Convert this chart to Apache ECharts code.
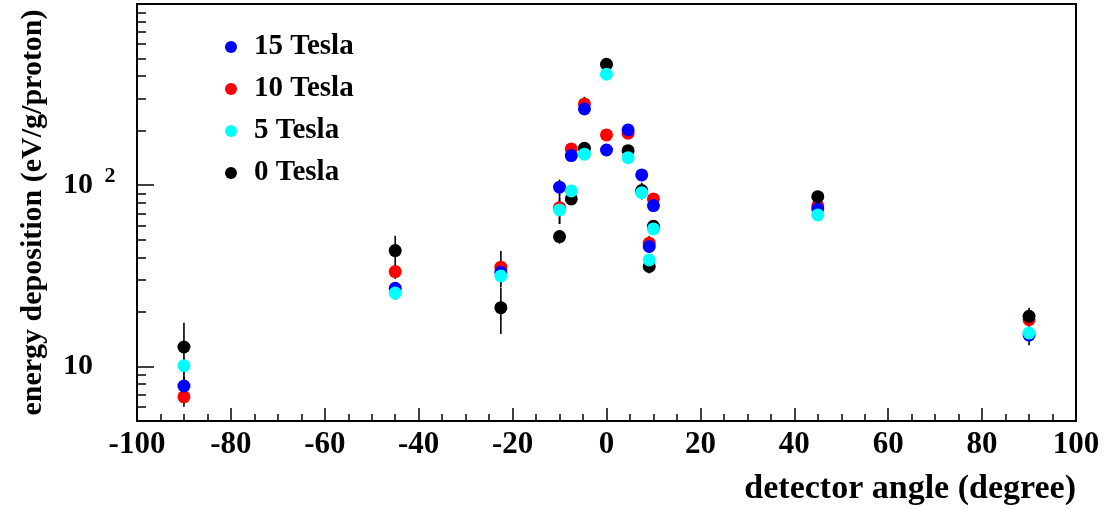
<!DOCTYPE html>
<html><head><meta charset="utf-8">
<script src="https://cdn.jsdelivr.net/npm/echarts@6/dist/echarts.min.js"></script>
<style>html,body{margin:0;padding:0;background:#fff}#c{width:1115px;height:510px}</style>
</head><body><div id="c"></div>
<script>
// detector angles (degree)
const angles   = [-90, -45, -22.5, -10, -7.5, -4.7, 0, 4.6, 7.5, 9.1, 10, 45, 90];
// energy deposition (eV/g/proton)
const tesla15  = [7.8, 27.0, 33.1, 97.5, 145.7, 263.6, 156.5, 201.8, 114.0, 45.9, 77.2, 74.0, 14.9];
const err15    = [1.0, 2.0, 3.0, 10.0, 5.0, 12.0, 6.0, 10.0, 5.0, 3.0, 4.0, 3.0, 1.8];
const tesla10  = [6.8, 33.4, 35.3, 75.2, 158.6, 280.8, 189.4, 193.6, 92.0, 47.9, 84.0, 76.9, 18.1];
const err10    = [0.8, 3.0, 8.0, 14.0, 5.0, 27.0, 8.0, 8.0, 4.0, 4.5, 6.0, 3.0, 1.0];
const tesla5   = [10.1, 25.4, 31.6, 73.1, 93.0, 148.3, 409.6, 142.0, 91.0, 38.7, 57.4, 68.6, 15.3];
const err5     = [1.0, 2.0, 3.0, 12.0, 4.0, 6.0, 15.0, 6.0, 4.0, 2.0, 3.0, 3.0, 1.0];
const tesla0   = [12.8, 43.6, 21.1, 52.1, 84.0, 160.0, 465.0, 155.1, 93.4, 35.6, 59.3, 86.5, 18.9];
const err0     = [4.6, 9.0, 6.0, 4.5, 3.0, 7.0, 15.0, 5.0, 10.0, 3.0, 2.0, 3.0, 2.2];
const legendNames = ['15 Tesla', '10 Tesla', '5 Tesla', '0 Tesla'];
const xTicks = { min: -100, max: 100, interval: 20 };
const yMajor = [10, 100];
const yMinor = [6, 7, 8, 9, 20, 30, 40, 50, 60, 70, 80, 90, 200, 300, 400, 500, 600, 700, 800, 900];

const FONT = "'Liberation Serif', 'Times New Roman', serif";
const chart = echarts.init(document.getElementById('c'), null, { renderer: 'canvas' });

function pts(vals) { return angles.map((a, i) => [a, vals[i]]); }
function errSeries(vals, errs) {
  return {
    type: 'custom', silent: true, z: 1,
    data: angles.map((a, i) => [a, vals[i] - errs[i], vals[i] + errs[i]]),
    encode: { x: 0, y: [1, 2] },
    renderItem: function (params, api) {
      const lo = api.coord([api.value(0), api.value(1)]);
      const hi = api.coord([api.value(0), api.value(2)]);
      return { type: 'line', shape: { x1: lo[0], y1: lo[1], x2: hi[0], y2: hi[1] },
               style: { stroke: '#000', lineWidth: 1.6 } };
    }
  };
}
function scatter(name, vals, color) {
  return { name: name, type: 'scatter', data: pts(vals), symbol: 'circle', symbolSize: 13, z: 3,
           itemStyle: { color: color, opacity: 1 }, emphasis: { disabled: true } };
}

const option = {
  animation: false,
  backgroundColor: '#fff',
  grid: { left: 137, right: 39, top: 4, bottom: 89, show: true, borderColor: '#000', borderWidth: 2, backgroundColor: 'transparent' },
  title: { text: 'detector angle (degree)', right: 39, top: 472, padding: 0,
           textStyle: { fontFamily: FONT, fontWeight: 'bold', fontSize: 34, color: '#000' } },
  legend: {
    data: legendNames, orient: 'vertical', left: 225, top: 32, itemWidth: 36, itemHeight: 12, itemGap: 12,
    icon: 'circle', selectedMode: false, padding: 0,
    textStyle: { fontFamily: FONT, fontWeight: 'bold', fontSize: 29, color: '#000', lineHeight: 30 }
  },
  xAxis: {
    type: 'value', min: xTicks.min, max: xTicks.max, interval: xTicks.interval,
    axisLine: { onZero: false, lineStyle: { color: '#000', width: 2 } },
    axisTick: { inside: true, length: 13, lineStyle: { color: '#000', width: 1.5 } },
    minorTick: { show: true, splitNumber: 4, length: 7, lineStyle: { color: '#000', width: 1.5 } },
    splitLine: { show: false },
    axisLabel: { margin: 8, fontFamily: FONT, fontWeight: 'bold', fontSize: 31, color: '#000', showMinLabel: true, showMaxLabel: true }
  },
  yAxis: [
    {
      type: 'log', logBase: 10, min: 5, max: 1000, position: 'left',
      axisLine: { show: true, onZero: false, lineStyle: { color: '#000', width: 2 } },
      axisTick: { show: true, inside: true, length: 17, customValues: yMajor, lineStyle: { color: '#000', width: 1.5 } },
      splitLine: { show: false },
      axisLabel: {
        customValues: yMajor, margin: 74, align: 'left', fontFamily: FONT, fontWeight: 'bold', fontSize: 30, color: '#000',
        formatter: function (v) {
          if (Math.abs(v - 100) < 1e-6) return '{m|10} {s|2}';
          if (Math.abs(v - 10) < 1e-6) return '{m|10}';
          return '';
        },
        rich: {
          m: { fontFamily: FONT, fontWeight: 'bold', fontSize: 30, lineHeight: 40, color: '#000' },
          s: { fontFamily: FONT, fontWeight: 'bold', fontSize: 22, lineHeight: 21, verticalAlign: 'top', padding: [0, 0, 0, 4], color: '#000' }
        }
      },
      name: 'energy deposition (eV/g/proton)', nameLocation: 'middle', nameGap: 89, nameRotate: 90, nameMoveOverlap: false,
      nameTextStyle: { fontFamily: FONT, fontWeight: 'bold', fontSize: 30, color: '#000' }
    },
    {
      type: 'log', logBase: 10, min: 5, max: 1000, position: 'left',
      axisLine: { show: false, onZero: false },
      axisTick: { show: true, inside: true, length: 9, customValues: yMinor, lineStyle: { color: '#000', width: 1.5 } },
      axisLabel: { show: false },
      splitLine: { show: false }
    }
  ],
  series: [
    errSeries(tesla10, err10), errSeries(tesla15, err15), errSeries(tesla0, err0), errSeries(tesla5, err5),
    scatter('10 Tesla', tesla10, '#ff0000'),
    scatter('15 Tesla', tesla15, '#0000ff'),
    scatter('0 Tesla', tesla0, '#000000'),
    scatter('5 Tesla', tesla5, '#00ffff')
  ]
};
chart.setOption(option);
</script>
</body></html>
